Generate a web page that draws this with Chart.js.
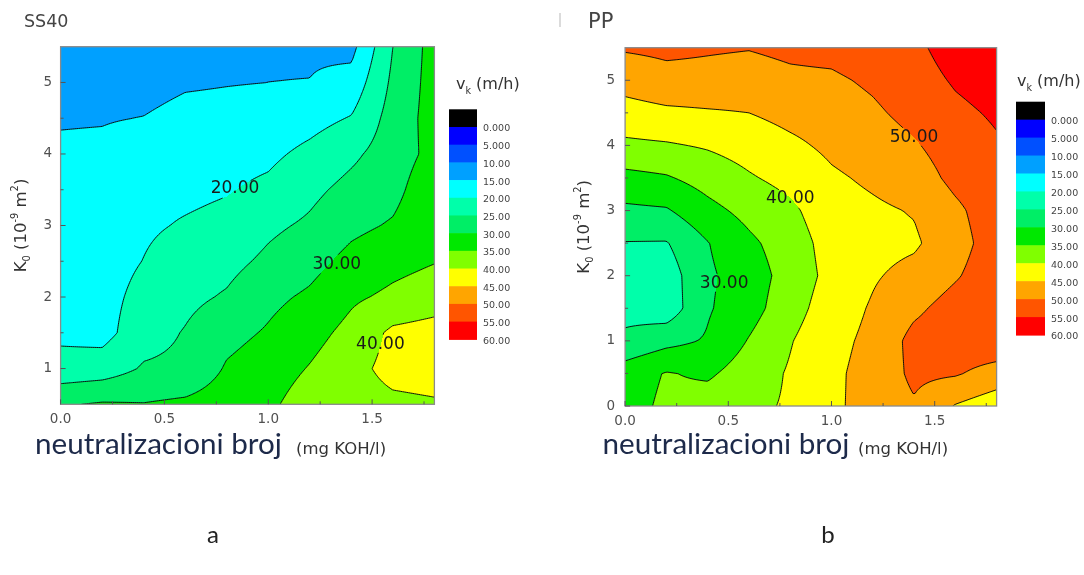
<!DOCTYPE html>
<html>
<head>
<meta charset="utf-8">
<script src="https://cdn.jsdelivr.net/npm/chart.js@4.4.1/dist/chart.umd.min.js"></script>
<style>
  body { margin: 0; background: #fff; }
  #wrap { position: relative; width: 1084px; height: 575px; }
  canvas { position: absolute; top: 0; }
</style>
</head>
<body>
<div id="wrap">
  <canvas id="ss40" width="542" height="575" style="left:0"></canvas>
  <canvas id="pp" width="542" height="575" style="left:542px"></canvas>
</div>
<script>
// contour levels and colours (colour k is used for levels[k-1] <= v < levels[k])
const levels = [0, 5, 10, 15, 20, 25, 30, 35, 40, 45, 50, 55, 60];
const levelColors = ['#000000', '#0000ff', '#0050ff', '#00a0ff', '#00ffff', '#00ffaa', '#00ee66',
  '#00e800', '#80ff00', '#ffff00', '#ffa500', '#ff5500', '#ff0000'];

// neutralizacioni broj (mg KOH/l)
const xNodes = [0, 0.2, 0.4, 0.6, 0.8, 1.0, 1.2, 1.4, 1.6, 1.8];
const xTicks = [0, 0.5, 1.0, 1.5];
const xMinorTicks = [0.25, 0.75, 1.25, 1.75];

// SS40: v_k (m/h), one row per K0 value
const ss40Y = [0.5, 1, 1.5, 2, 2.5, 3, 3.5, 4, 4.5, 5, 5.5];
const ss40V = [
  [29.5, 30.5, 30.2, 31, 32.5, 34, 37.5, 38, 39, 39.5],
  [21.7, 22.4, 25.5, 26, 30.5, 32.5, 35.3, 38.5, 41.5, 42],
  [19.0, 18.3, 23, 25.3, 28.5, 30.5, 33.2, 36.5, 41, 42],
  [18.5, 18.3, 21.5, 23.8, 25.5, 28.8, 30.8, 34.2, 36, 37.5],
  [18, 18, 20.1, 22.3, 23.5, 26, 28.3, 31.5, 33.5, 34.8],
  [17.5, 17.6, 19.3, 20.4, 21.3, 24, 25.8, 28.8, 30.5, 34],
  [16.8, 17, 18.8, 19, 19.7, 21, 23.8, 26.5, 28.5, 33.5],
  [15.8, 16, 17.5, 17.8, 18.3, 19, 21.2, 24, 27.5, 31.5],
  [14.6, 14.7, 15.1, 16.3, 16.5, 17, 18.3, 20.3, 27, 32],
  [13.5, 13.8, 13.5, 14.5, 14.8, 15.0, 15.1, 16.8, 26, 32],
  [13, 13.2, 12.5, 13.5, 14, 14.5, 14.3, 13.5, 25, 32],
];
const ss40YTicks = [1, 2, 3, 4, 5];
const ss40YMinor = [1.5, 2.5, 3.5, 4.5];
const ss40LabelV = [20, 30, 40];
const ss40LabelX = [0.84, 1.33, 1.54];
const ss40LabelY = [3.51, 2.46, 1.34];

// PP
const ppY = [0, 0.5, 1, 1.5, 2, 2.5, 3, 3.5, 4, 4.5, 5, 5.5];
const ppV = [
  [33, 36, 37.5, 39, 40.5, 44, 47, 49.5, 44.7, 42],
  [32.5, 35.3, 34.2, 37.5, 40.5, 44, 46.8, 51, 50.5, 48],
  [26, 28.5, 30.5, 35.3, 39.7, 43.5, 46.2, 51.5, 53, 53.5],
  [23.5, 22, 29.5, 33, 38, 42.5, 45.5, 49, 52, 53.5],
  [23.5, 22.5, 29.2, 32.5, 37, 41.5, 44.5, 46.5, 49.5, 53],
  [24.8, 24.7, 29.8, 34, 37.5, 42, 43.5, 44.3, 48, 52.5],
  [29, 29.5, 33.5, 36.5, 39, 43, 44.2, 45.3, 49, 52.8],
  [33.5, 34.5, 37, 39.5, 41.5, 44.3, 45.8, 47.5, 51.3, 53.5],
  [39, 39.5, 40.5, 42, 44, 46, 47.5, 49.5, 52.5, 54.5],
  [43, 44, 44.5, 45, 46.5, 47.5, 49.2, 51.5, 54, 55.6],
  [47, 48.5, 48.5, 48, 49, 49.2, 50.8, 53, 55.5, 57],
  [50.5, 51, 50.5, 50.2, 51, 51.5, 53, 54, 57, 58],
];
const ppYTicks = [0, 1, 2, 3, 4, 5];
const ppYMinor = [0.5, 1.5, 2.5, 3.5, 4.5];
const ppLabelV = [30, 40, 50];
const ppLabelX = [0.48, 0.80, 1.40];
const ppLabelY = [1.88, 3.19, 4.12];

const ORIGIN_FONT = '"DejaVu Sans"';

const ss40Layout = {
  title: 'SS40', titleX: 24, titleY: 27, titleSize: 17.5,
  left: 60.6, right: 434.4, top: 46.7, bottom: 404.3, tickPad: 8.5, yTitleX: 22,
  barX: 449, barW: 28, barTop: 109.3, barBottom: 339.3, cbTitleX: 456, cbTitleY: 89,
  xTitleX: 35, xUnitX: 296, xTitleY: 454, caption: 'a', captionX: 213,
};
const ppLayout = {
  title: 'PP', titleX: 46, titleY: 28, titleSize: 21, mark: 18,
  left: 83.1, right: 454.6, top: 47.7, bottom: 406, tickPad: 10, yTitleX: 43,
  barX: 474, barW: 29, barTop: 101.7, barBottom: 335, cbTitleX: 475, cbTitleY: 86,
  xTitleX: 60.5, xUnitX: 316, xTitleY: 454, caption: 'b', captionX: 286,
};

function sample(grid, ys, vx, vy) {
  const nx = xNodes.length, ny = ys.length;
  let fx = (vx - xNodes[0]) / (xNodes[nx - 1] - xNodes[0]) * (nx - 1);
  let fy = (vy - ys[0]) / (ys[ny - 1] - ys[0]) * (ny - 1);
  fx = Math.max(0, Math.min(nx - 1 - 1e-9, fx));
  fy = Math.max(0, Math.min(ny - 1 - 1e-9, fy));
  const i = Math.floor(fx), j = Math.floor(fy), tx = fx - i, ty = fy - j;
  const a = grid[j][i], b = grid[j][i + 1], c = grid[j + 1][i], d = grid[j + 1][i + 1];
  return (a * (1 - tx) + b * tx) * (1 - ty) + (c * (1 - tx) + d * tx) * ty;
}

function bandOf(v) {
  let k = 0;
  while (k < levels.length && v >= levels[k]) k++;
  return Math.min(k, levelColors.length - 1);
}

// parts: [text, relative size, baseline shift in em]
function richText(ctx, parts, x, y, size, family, measureOnly) {
  let cx = x;
  parts.forEach(([t, s, dy]) => {
    ctx.font = `${size * s}px ${family}`;
    if (!measureOnly) ctx.fillText(t, cx, y + dy * size);
    cx += ctx.measureText(t).width;
  });
  return cx - x;
}

const yTitleParts = [['K', 1, 0], ['0', 0.6, 0.3], [' (10', 1, 0], ['-9', 0.6, -0.42], [' m', 1, 0], ['2', 0.6, -0.42], [')', 1, 0]];
const cbTitleParts = [['v', 1, 0], ['k', 0.6, 0.3], [' (m/h)', 1, 0]];

function makePanel(canvasId, grid, ys, yTicks, yMinor, labelV, labelX, labelY, L) {
  const points = [];
  ys.forEach((yv, j) => xNodes.forEach((xv, i) => points.push({ x: xv, y: yv, v: grid[j][i] })));

  const panelPlugin = {
    id: 'panel',
    beforeDatasetsDraw(chart) {
      const { ctx, chartArea: a, scales: { x, y } } = chart;
      ctx.save();
      ctx.beginPath();
      ctx.rect(a.left, a.top, a.right - a.left, a.bottom - a.top);
      ctx.clip();

      // filled bands
      const x0 = Math.floor(a.left), x1 = Math.ceil(a.right);
      const y0 = Math.floor(a.top), y1 = Math.ceil(a.bottom);
      const colVals = [];
      for (let px = x0; px < x1; px++) colVals.push(x.getValueForPixel(px + 0.5));
      for (let py = y0; py < y1; py++) {
        const vy = y.getValueForPixel(py + 0.5);
        let runStart = x0;
        let runBand = bandOf(sample(grid, ys, colVals[0], vy));
        for (let px = x0 + 1; px <= x1; px++) {
          const b = px < x1 ? bandOf(sample(grid, ys, colVals[px - x0], vy)) : -1;
          if (b !== runBand) {
            ctx.fillStyle = levelColors[runBand];
            ctx.fillRect(runStart, py, px - runStart, 1);
            runStart = px;
            runBand = b;
          }
        }
      }

      // label boxes (contour lines are broken under labels)
      ctx.font = `17px ${ORIGIN_FONT}`;
      const boxes = labelV.map((v, k) => {
        const px = x.getPixelForValue(labelX[k]), py = y.getPixelForValue(labelY[k]);
        const w = ctx.measureText(v.toFixed(2)).width;
        return { v, px, py, x0: px - w / 2 - 3, x1: px + w / 2 + 3, y0: py - 9, y1: py + 9 };
      });

      // contour lines, marching squares on a fine pixel grid
      const step = 2;
      const gx = [], gy = [];
      for (let px = a.left; px < a.right; px += step) gx.push(px);
      gx.push(a.right);
      for (let py = a.top; py < a.bottom; py += step) gy.push(py);
      gy.push(a.bottom);
      const gxv = gx.map(px => x.getValueForPixel(px));
      const val = gy.map(py => {
        const vy = y.getValueForPixel(py);
        return gxv.map(vx => sample(grid, ys, vx, vy));
      });
      ctx.beginPath();
      levels.slice(1, -1).forEach(lv => {
        for (let j = 0; j < gy.length - 1; j++) {
          for (let i = 0; i < gx.length - 1; i++) {
            const p = [[gx[i], gy[j], val[j][i]], [gx[i + 1], gy[j], val[j][i + 1]],
              [gx[i + 1], gy[j + 1], val[j + 1][i + 1]], [gx[i], gy[j + 1], val[j + 1][i]]];
            const pts = [];
            for (let e = 0; e < 4; e++) {
              const A = p[e], B = p[(e + 1) % 4];
              if ((A[2] < lv) !== (B[2] < lv)) {
                const t = (lv - A[2]) / (B[2] - A[2]);
                pts.push([A[0] + t * (B[0] - A[0]), A[1] + t * (B[1] - A[1])]);
              }
            }
            for (let k = 0; k + 1 < pts.length; k += 2) {
              const mx = (pts[k][0] + pts[k + 1][0]) / 2, my = (pts[k][1] + pts[k + 1][1]) / 2;
              if (boxes.some(b => mx > b.x0 && mx < b.x1 && my > b.y0 && my < b.y1)) continue;
              ctx.moveTo(pts[k][0], pts[k][1]);
              ctx.lineTo(pts[k + 1][0], pts[k + 1][1]);
            }
          }
        }
      });
      ctx.strokeStyle = 'rgba(10,10,10,0.95)';
      ctx.lineWidth = 1;
      ctx.stroke();

      // contour labels
      ctx.fillStyle = '#1a1a1a';
      ctx.textAlign = 'center';
      ctx.textBaseline = 'middle';
      ctx.font = `17px ${ORIGIN_FONT}`;
      boxes.forEach(b => ctx.fillText(b.v.toFixed(2), b.px, b.py));
      ctx.restore();
    },
    afterDraw(chart) {
      const { ctx, chartArea: a, scales: { x, y } } = chart;
      ctx.save();
      // frame and inward ticks
      ctx.strokeStyle = '#8a8a8a';
      ctx.lineWidth = 1.3;
      ctx.strokeRect(a.left, a.top, a.right - a.left, a.bottom - a.top);
      ctx.strokeStyle = '#555';
      ctx.lineWidth = 1;
      ctx.beginPath();
      xTicks.concat(xMinorTicks).forEach((v, k) => {
        const px = x.getPixelForValue(v), len = k < xTicks.length ? 5 : 3;
        ctx.moveTo(px, a.bottom);
        ctx.lineTo(px, a.bottom - len);
      });
      yTicks.concat(yMinor).forEach((v, k) => {
        const py = y.getPixelForValue(v), len = k < yTicks.length ? 5 : 3;
        ctx.moveTo(a.left, py);
        ctx.lineTo(a.left + len, py);
      });
      ctx.stroke();

      // panel title
      ctx.fillStyle = '#444';
      ctx.textAlign = 'left';
      ctx.textBaseline = 'alphabetic';
      ctx.font = `${L.titleSize}px ${ORIGIN_FONT}`;
      ctx.fillText(L.title, L.titleX, L.titleY);
      if (L.mark) {
        ctx.strokeStyle = '#cfcfcf';
        ctx.lineWidth = 1.5;
        ctx.beginPath();
        ctx.moveTo(L.mark, 13);
        ctx.lineTo(L.mark, 27);
        ctx.stroke();
      }

      // y axis title
      ctx.fillStyle = '#333';
      ctx.save();
      ctx.translate(L.yTitleX, (a.top + a.bottom) / 2);
      ctx.rotate(-Math.PI / 2);
      const yw = richText(ctx, yTitleParts, 0, 0, 16.5, ORIGIN_FONT, true);
      ctx.textBaseline = 'middle';
      richText(ctx, yTitleParts, -yw / 2, 0, 16.5, ORIGIN_FONT);
      ctx.restore();

      // x axis title
      ctx.textBaseline = 'alphabetic';
      ctx.fillStyle = '#1d2a4a';
      ctx.font = '24px Lato';
      const fit = 24 * 247 / ctx.measureText('neutralizacioni broj').width;
      ctx.font = `${fit}px Lato`;
      ctx.fillText('neutralizacioni broj', L.xTitleX, L.xTitleY);
      ctx.fillStyle = '#333';
      ctx.font = `16.5px ${ORIGIN_FONT}`;
      ctx.fillText('(mg KOH/l)', L.xUnitX, L.xTitleY);

      // colour scale
      const bandH = (L.barBottom - L.barTop) / levelColors.length;
      levelColors.forEach((c, k) => {
        ctx.fillStyle = c;
        ctx.fillRect(L.barX, L.barTop + k * bandH, L.barW, bandH + 0.6);
      });
      ctx.fillStyle = '#444';
      ctx.font = `9.5px ${ORIGIN_FONT}`;
      ctx.textBaseline = 'middle';
      levels.forEach((v, k) => {
        const txt = v < 10 ? v.toFixed(3) : v.toFixed(2);
        ctx.fillText(txt, L.barX + L.barW + 6, L.barTop + (k + 1) * bandH + 2);
      });
      ctx.textBaseline = 'alphabetic';
      ctx.fillStyle = '#333';
      richText(ctx, cbTitleParts, L.cbTitleX, L.cbTitleY, 16, ORIGIN_FONT);

      // caption
      ctx.fillStyle = '#222';
      ctx.textAlign = 'center';
      ctx.font = '24px Lato';
      ctx.fillText(L.caption, L.captionX, 543);
      ctx.restore();
    },
  };

  const tickFont = { family: 'DejaVu Sans', size: 13.5 };
  new Chart(document.getElementById(canvasId).getContext('2d'), {
    type: 'scatter',
    data: { datasets: [{ data: points, pointRadius: 0, pointHoverRadius: 0 }] },
    options: {
      responsive: false,
      animation: false,
      devicePixelRatio: 1,
      events: [],
      layout: { padding: { left: 0, right: 542 - L.right, top: L.top, bottom: 575 - L.bottom - 24 } },
      plugins: { legend: { display: false }, tooltip: { enabled: false } },
      scales: {
        x: {
          type: 'linear', min: xNodes[0], max: xNodes[xNodes.length - 1],
          grid: { display: false, drawTicks: false }, border: { display: false },
          afterBuildTicks: s => { s.ticks = xTicks.map(value => ({ value })); },
          afterFit: s => { s.height = 24; },
          ticks: { font: tickFont, color: '#505050', padding: 7, maxRotation: 0, autoSkip: false,
            callback: v => Number(v).toFixed(1) },
        },
        y: {
          type: 'linear', min: ys[0], max: ys[ys.length - 1],
          grid: { display: false, drawTicks: false }, border: { display: false },
          afterBuildTicks: s => { s.ticks = yTicks.map(value => ({ value })); },
          afterFit: s => { s.width = L.left; },
          ticks: { font: tickFont, color: '#505050', padding: L.tickPad, autoSkip: false,
            callback: v => String(v) },
        },
      },
    },
    plugins: [panelPlugin],
  });
}

makePanel('ss40', ss40V, ss40Y, ss40YTicks, ss40YMinor, ss40LabelV, ss40LabelX, ss40LabelY, ss40Layout);
makePanel('pp', ppV, ppY, ppYTicks, ppYMinor, ppLabelV, ppLabelX, ppLabelY, ppLayout);
</script>
</body>
</html>
